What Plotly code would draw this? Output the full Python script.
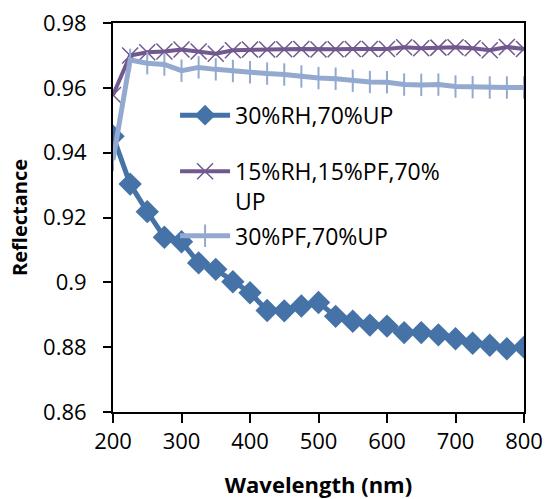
import plotly.graph_objects as go

wavelength = [200, 225, 250, 275, 300, 325, 350, 375, 400, 425, 450, 475, 500,
              525, 550, 575, 600, 625, 650, 675, 700, 725, 750, 775, 800]

rh30_up70 = [0.9451, 0.9303, 0.9218, 0.9139, 0.9125, 0.9060, 0.9040, 0.9002, 0.8968,
             0.8913, 0.8912, 0.8927, 0.8938, 0.8895, 0.8880, 0.8868, 0.8865, 0.8845,
             0.8845, 0.8838, 0.8826, 0.8812, 0.8806, 0.8795, 0.8800]

rh15_pf15_up70 = [0.9578, 0.9700, 0.9710, 0.9712, 0.9718, 0.9712, 0.9705, 0.9716, 0.9718,
                  0.9718, 0.9719, 0.9720, 0.9718, 0.9719, 0.9720, 0.9720, 0.9720, 0.9725,
                  0.9722, 0.9724, 0.9725, 0.9722, 0.9716, 0.9726, 0.9720]

pf30_up70 = [0.9377, 0.9686, 0.9676, 0.9672, 0.9653, 0.9663, 0.9657, 0.9652, 0.9648,
             0.9644, 0.9641, 0.9635, 0.9630, 0.9628, 0.9622, 0.9618, 0.9617, 0.9610,
             0.9609, 0.9610, 0.9604, 0.9602, 0.9601, 0.9601, 0.9601]

names = ["30%RH,70%UP", "15%RH,15%PF,70%<br>UP", "30%PF,70%UP"]
colors = ["#4572A7", "#71588F", "#93A9CF"]

FONT = "Open Sans"

fig = go.Figure()
fig.add_trace(go.Scatter(
    x=wavelength, y=rh30_up70, name=names[0], mode="lines+markers",
    line=dict(color=colors[0], width=5),
    marker=dict(symbol="diamond", size=18, color=colors[0]),
    legend="legend", showlegend=True))
fig.add_trace(go.Scatter(
    x=wavelength, y=rh15_pf15_up70, name=names[1], mode="lines+markers",
    line=dict(color=colors[1], width=4),
    marker=dict(symbol="x-thin", size=16, color=colors[1],
                line=dict(color=colors[1], width=1.5)),
    legend="legend2", showlegend=True))
fig.add_trace(go.Scatter(
    x=wavelength, y=pf30_up70, name=names[2], mode="lines+markers",
    line=dict(color=colors[2], width=5),
    marker=dict(symbol="line-ns", size=16, color=colors[2],
                line=dict(color=colors[2], width=2)),
    legend="legend3", showlegend=True))

leg_common = dict(x=0.151, xanchor="left", yanchor="middle", bgcolor="rgba(0,0,0,0)",
                  font=dict(family=FONT, size=23, color="#000000"), itemwidth=50,
                  valign="top", borderwidth=0)

fig.update_layout(
    width=545, height=499,
    margin=dict(l=113, r=21, t=23, b=87),
    showlegend=True,
    paper_bgcolor="white", plot_bgcolor="white",
    font=dict(family=FONT, size=22, color="#000000"),
    legend=dict(y=0.763, **leg_common),
    legend2=dict(y=0.580, **leg_common),
    legend3=dict(y=0.453, **leg_common),
    xaxis=dict(
        range=[200, 800], tickvals=[200, 300, 400, 500, 600, 700, 800],
        showline=True, linecolor="#000000", linewidth=2, mirror=True,
        ticks="outside", ticklen=9, tickwidth=2, tickcolor="#000000",
        showgrid=False, zeroline=False, automargin=False,
        tickfont=dict(family=FONT, size=22),
        title=dict(text="<b>Wavelength (nm)</b>", font=dict(family=FONT, size=22), standoff=24),
    ),
    yaxis=dict(
        range=[0.86, 0.98], tickvals=[0.86, 0.88, 0.9, 0.92, 0.94, 0.96, 0.98],
        ticktext=["0.86", "0.88", "0.9", "0.92", "0.94", "0.96", "0.98"],
        showline=True, linecolor="#000000", linewidth=2, mirror=True,
        ticks="outside", ticklen=8, tickwidth=2, tickcolor="#000000",
        showgrid=False, zeroline=False, ticklabelstandoff=12, automargin=False,
        tickfont=dict(family=FONT, size=22),
        title=dict(text="<b>Reflectance</b>", font=dict(family=FONT, size=20), standoff=10),
    ),
)

fig.write_html("out.html")
